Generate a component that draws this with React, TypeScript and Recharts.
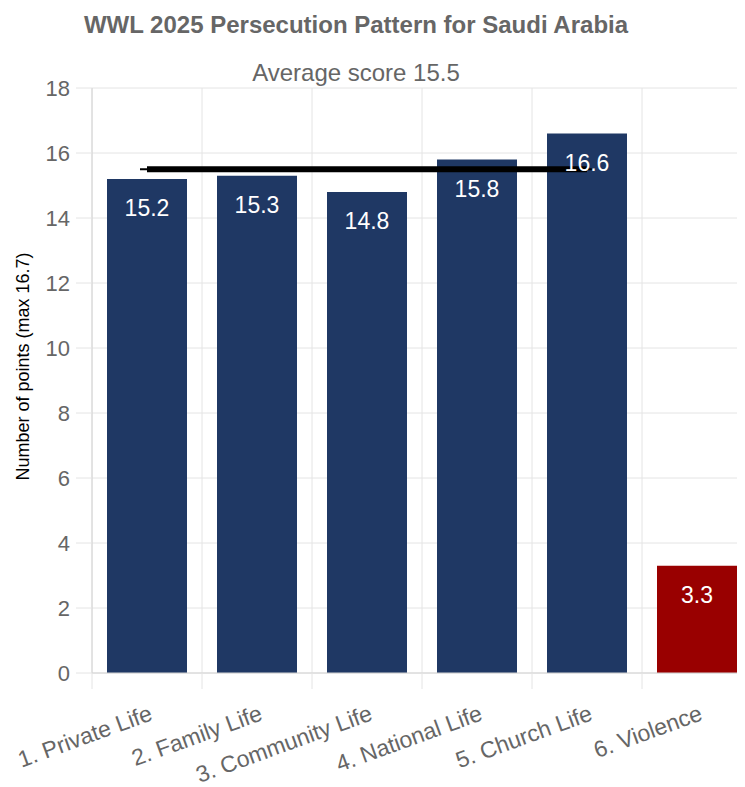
import React from 'react'
import { ComposedChart, Bar, Line, XAxis, YAxis, CartesianGrid, Cell, LabelList } from 'recharts'

const CATEGORIES = ['1. Private Life', '2. Family Life', '3. Community Life', '4. National Life', '5. Church Life', '6. Violence']
const SCORES = [15.2, 15.3, 14.8, 15.8, 16.6, 3.3]
const AVERAGE = [15.5, 15.5, 15.5, 15.5, 15.5, null]
const BAR_COLORS = ['#1f3864', '#1f3864', '#1f3864', '#1f3864', '#1f3864', '#990000']
const Y_TICKS = [0, 2, 4, 6, 8, 10, 12, 14, 16, 18]

const data = CATEGORIES.map((name, i) => ({ name, score: SCORES[i], avg: AVERAGE[i] }))

const WIDTH = 760
const HEIGHT = 779
const MARGIN = { top: 80, right: 16, left: 0, bottom: 0 }
const Y_AXIS_WIDTH = 84
const X_AXIS_HEIGHT = 114
const FONT = '"Liberation Sans", Arial, sans-serif'
const GRID = '#e4e4e4'

function XTick(props: any) {
  const { x, y, payload } = props
  const band = (WIDTH - MARGIN.left - MARGIN.right - Y_AXIS_WIDTH) / CATEGORIES.length
  return (
    <g>
      <line x1={x - band / 2} x2={x - band / 2} y1={y} y2={y + 16} stroke={GRID} />
      <text
        x={x + 4}
        y={y + 39}
        dy="0.35em"
        textAnchor="end"
        fontSize={23}
        fill="#666"
        fontFamily={FONT}
        transform={`rotate(-20, ${x + 4}, ${y + 39})`}
      >
        {payload.value}
      </text>
    </g>
  )
}

function AvgDot(props: any) {
  const { cx, cy } = props
  if (cy == null) return null
  return <line x1={cx - 7} x2={cx + 7} y1={cy} y2={cy} stroke="#000" strokeWidth={2} />
}

function YLabel(props: any) {
  const { viewBox } = props
  const cx = 15
  const cy = viewBox.y + viewBox.height / 2 - 14
  return (
    <text
      x={cx}
      y={cy}
      dy="0.35em"
      textAnchor="middle"
      fontSize={18}
      fill="#000"
      fontFamily={FONT}
      transform={`rotate(-90, ${cx}, ${cy})`}
    >
      Number of points (max 16.7)
    </text>
  )
}

export default function App() {
  return (
    <div style={{ position: 'relative', width: 737, height: HEIGHT, overflow: 'hidden', fontFamily: FONT }}>
      <div
        style={{
          position: 'absolute', top: 5, left: 0, width: 696, textAlign: 'center',
          fontSize: 24, lineHeight: '24px', fontWeight: 700, color: '#666',
        }}
      >
        WWL 2025 Persecution Pattern for Saudi Arabia
      </div>
      <div
        style={{
          position: 'absolute', top: 53, left: 0, width: 696, textAlign: 'center',
          fontSize: 24, lineHeight: '24px', color: '#666',
        }}
      >
        Average score 15.5
      </div>
      <ComposedChart width={WIDTH} height={HEIGHT} data={data} margin={MARGIN} style={{ fontFamily: FONT }}>
        <CartesianGrid
          stroke={GRID}
          verticalCoordinatesGenerator={({ offset }: any) =>
            Array.from({ length: CATEGORIES.length + 1 }, (_, i) => offset.left + (i * offset.width) / CATEGORIES.length)
          }
        />
        <XAxis
          dataKey="name"
          height={X_AXIS_HEIGHT}
          interval={0}
          tickSize={0}
          tickMargin={0}
          axisLine={{ stroke: '#d4d4d4' }}
          tick={<XTick />}
        />
        <YAxis
          width={Y_AXIS_WIDTH}
          domain={[0, 18]}
          ticks={Y_TICKS}
          interval={0}
          tickSize={16}
          tickMargin={6}
          tickLine={{ stroke: GRID }}
          axisLine={{ stroke: '#d4d4d4' }}
          tick={{ fill: '#666', fontSize: 22, fontFamily: FONT }}
          label={<YLabel />}
        />
        <Bar dataKey="score" barSize={80} isAnimationActive={false}>
          {data.map((d, i) => (
            <Cell key={d.name} fill={BAR_COLORS[i]} />
          ))}
          <LabelList dataKey="score" position="insideTop" offset={21} fill="#fff" fontSize={23} fontFamily={FONT} />
        </Bar>
        <Line
          dataKey="avg"
          stroke="#000"
          strokeWidth={6}
          dot={<AvgDot />}
          activeDot={false}
          isAnimationActive={false}
        />
      </ComposedChart>
    </div>
  )
}
